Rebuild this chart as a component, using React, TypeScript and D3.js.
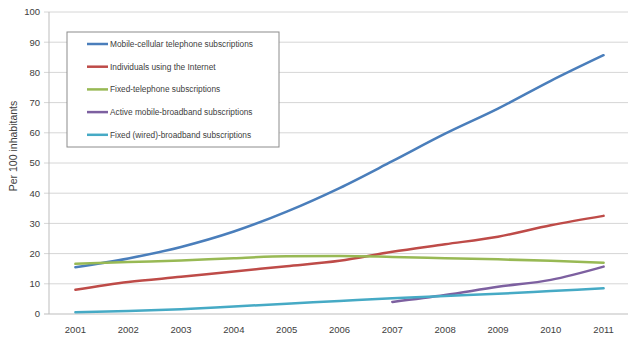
import React from "react";
import * as d3 from "d3";

const years = ["2001","2002","2003","2004","2005","2006","2007","2008","2009","2010","2011"];
const mobileCellular = [15.5, 18.4, 22.2, 27.3, 33.9, 41.7, 50.6, 59.7, 68.0, 77.2, 85.7];
const internetUsers = [8.0, 10.6, 12.3, 14.1, 15.8, 17.6, 20.6, 23.1, 25.6, 29.4, 32.5];
const fixedTelephone = [16.6, 17.2, 17.7, 18.5, 19.1, 19.2, 18.9, 18.5, 18.1, 17.6, 17.0];
const mobileBroadband = [null, null, null, null, null, null, 4.0, 6.3, 9.0, 11.3, 15.7];
const fixedBroadband = [0.6, 1.0, 1.6, 2.5, 3.4, 4.3, 5.2, 6.0, 6.7, 7.6, 8.5];
const yTicks = [0, 10, 20, 30, 40, 50, 60, 70, 80, 90, 100];
const seriesNames = [
  "Mobile-cellular telephone subscriptions",
  "Individuals using the Internet",
  "Fixed-telephone subscriptions",
  "Active mobile-broadband subscriptions",
  "Fixed (wired)-broadband subscriptions",
];
const seriesColors = ["#4A7EBB", "#BE4B48", "#98B954", "#7D60A0", "#46AAC5"];
const seriesValues = [mobileCellular, internetUsers, fixedTelephone, mobileBroadband, fixedBroadband];

const W = 628, H = 339;
const plotLeft = 49, plotRight = 630, plotTop = 12, plotBottom = 314;

export default function App() {
  const x = d3.scaleBand<string>().domain(years).range([plotLeft, plotRight]);
  const y = d3.scaleLinear().domain([0, 100]).range([plotBottom, plotTop]);
  const cx = (yr: string) => (x(yr) as number) + x.bandwidth() / 2;
  const line = d3
    .line<number | null>()
    .defined((d) => d !== null)
    .x((_, i) => cx(years[i]))
    .y((d) => y(d as number))
    .curve(d3.curveMonotoneX);

  const font = "'Liberation Sans', Arial, sans-serif";
  const lg = { x: 67, y: 32, w: 212, h: 115 };

  return (
    <div style={{ position: "absolute", left: 0, top: 0 }}>
      <svg width={W} height={H} style={{ display: "block", background: "#fff" }}>
        {yTicks.map((t) => (
          <g key={t}>
            <line x1={plotLeft - 5} x2={plotRight} y1={y(t)} y2={y(t)} stroke={t === 0 ? "#bdbdbd" : "#d6d6d6"} strokeWidth={1} />
            <text x={40} y={y(t)} dy="0.35em" textAnchor="end" fontSize={9.5} fontFamily={font} fill="#404040">
              {t}
            </text>
          </g>
        ))}
        <line x1={plotLeft} x2={plotLeft} y1={plotTop} y2={plotBottom} stroke="#bdbdbd" />
        {years.map((yr) => (
          <text key={yr} x={cx(yr)} y={330} dy="0.35em" textAnchor="middle" fontSize={9.5} fontFamily={font} fill="#404040">
            {yr}
          </text>
        ))}
        <text
          transform={`translate(13, 146) rotate(-90)`}
          textAnchor="middle"
          dy="0.35em"
          fontSize={10.5}
          fontFamily={font}
          fill="#404040"
        >
          Per 100 inhabitants
        </text>
        {seriesValues.map((vals, i) => (
          <path key={i} d={line(vals) || ""} fill="none" stroke={seriesColors[i]} strokeWidth={2.5} strokeLinecap="round" />
        ))}
        <rect x={lg.x} y={lg.y} width={lg.w} height={lg.h} fill="#fff" stroke="#8c8c8c" strokeWidth={1} />
        {seriesNames.map((n, i) => {
          const yy = 44 + i * 22.7;
          return (
            <g key={n}>
              <line x1={87} x2={108} y1={yy} y2={yy} stroke={seriesColors[i]} strokeWidth={2.5} />
              <text x={110} y={yy} dy="0.35em" fontSize={8.3} fontFamily={font} fill="#404040">
                {n}
              </text>
            </g>
          );
        })}
      </svg>
    </div>
  );
}
